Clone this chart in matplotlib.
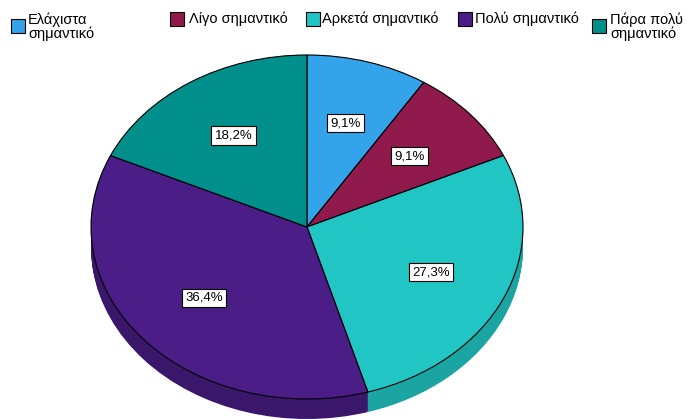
import numpy as np
import matplotlib.pyplot as plt
from matplotlib.patches import Rectangle

plt.rcParams['font.family'] = ['Liberation Sans', 'DejaVu Sans']

labels = ['Ελάχιστα\nσημαντικό', 'Λίγο σημαντικό', 'Αρκετά σημαντικό',
          'Πολύ σημαντικό', 'Πάρα πολύ\nσημαντικό']
counts = [1, 1, 3, 4, 2]
colors = ['#33a3ea', '#8f1a4b', '#20c5c4', '#4a1d87', '#008f8b']
side_colors = ['#2a86c0', '#72143c', '#1aa5a2', '#3b176c', '#00736f']

W, H = 688, 419
fig = plt.figure(figsize=(W / 100, H / 100), dpi=100)
ax = fig.add_axes([0, 0, 1, 1])

# pie geometry in pixels: centre, horizontal/vertical radius, thickness
cx, cy, rx, ry, depth = 307, 227, 216, 172, 20

# side of the 3D pie: stacked copies shifted down
for d in np.linspace(depth / ry, 0, 25):
    ax.pie(counts, colors=side_colors, startangle=90, counterclock=False,
           center=(0, -d), wedgeprops=dict(linewidth=0))

wedges, texts, autotexts = ax.pie(
    counts, colors=colors, startangle=90, counterclock=False,
    autopct=lambda p: f'{p:.1f}%'.replace('.', ','), pctdistance=0.63,
    wedgeprops=dict(edgecolor='black', linewidth=0.8),
    textprops=dict(fontsize=9.5))
for t in autotexts:
    t.set_bbox(dict(facecolor='white', edgecolor='black', linewidth=0.8, pad=2.5))

ax.set_aspect('auto')
ax.set_xlim(-cx / rx, (W - cx) / rx)
ax.set_ylim(-(H - cy) / ry, cy / ry)
ax.axis('off')

# legend across the top (pixel positions)
box_x = [11, 170, 306, 458, 592]
text_x = [28, 189, 322, 475, 610]
mid_y = [26.5, 19, 19, 19, 26.5]
for bx, tx, y, lab, c in zip(box_x, text_x, mid_y, labels, colors):
    fig.add_artist(Rectangle((bx / W, 1 - (y + 7) / H), 14 / W, 14 / H,
                             transform=fig.transFigure, facecolor=c,
                             edgecolor='black', linewidth=0.8))
    fig.text(tx / W, 1 - y / H, lab, fontsize=10.5, va='center',
             ha='left', linespacing=0.95)

fig.savefig('out.png', dpi=100)
